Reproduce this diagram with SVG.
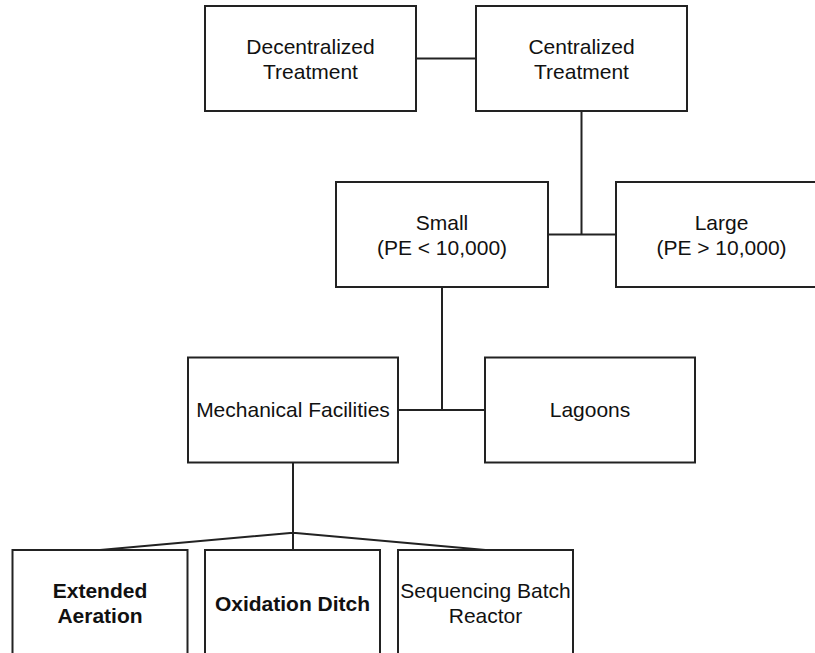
<svg xmlns="http://www.w3.org/2000/svg" width="815" height="653" viewBox="0 0 815 653">
<style>
.box{fill:#fff;stroke:#222;stroke-width:2}
.edge{fill:none;stroke:#222;stroke-width:2}
.t{font-family:"Liberation Sans",Arial,sans-serif;font-size:21px;fill:#111;text-anchor:middle}
.b{font-weight:bold}
</style>
<rect width="815" height="653" fill="#fff"/>
<g id="connectors">
<path class="edge" d="M416,58.5H476"/>
<path class="edge" d="M581.5,111V234.5M548,234.5H616"/>
<path class="edge" d="M442,287V410M398,410H485"/>
<path class="edge" d="M293,462.5V550M100,550L293,532.7L485.5,550"/>
</g>
<g id="decentralized">
<rect class="box" x="205" y="6" width="211" height="105"/>
<text class="t" x="310.5" y="54">Decentralized</text>
<text class="t" x="310.5" y="79">Treatment</text>
</g>
<g id="centralized">
<rect class="box" x="476" y="6" width="211" height="105"/>
<text class="t" x="581.5" y="54">Centralized</text>
<text class="t" x="581.5" y="79">Treatment</text>
</g>
<g id="small">
<rect class="box" x="336" y="182" width="212" height="105"/>
<text class="t" x="442" y="230">Small</text>
<text class="t" x="442" y="255">(PE &lt; 10,000)</text>
</g>
<g id="large">
<rect class="box" x="616" y="182" width="211" height="105"/>
<text class="t" x="721.5" y="230">Large</text>
<text class="t" x="721.5" y="255">(PE &gt; 10,000)</text>
</g>
<g id="mechanical">
<rect class="box" x="188" y="357.5" width="210" height="105"/>
<text class="t" x="293" y="417">Mechanical Facilities</text>
</g>
<g id="lagoons">
<rect class="box" x="485" y="357.5" width="210" height="105"/>
<text class="t" x="590" y="417">Lagoons</text>
</g>
<g id="extended">
<rect class="box" x="12.5" y="550" width="175" height="105"/>
<text class="t b" x="100" y="598">Extended</text>
<text class="t b" x="100" y="623">Aeration</text>
</g>
<g id="oxidation">
<rect class="box" x="205" y="550" width="175" height="105"/>
<text class="t b" x="292.5" y="611">Oxidation Ditch</text>
</g>
<g id="sbr">
<rect class="box" x="398" y="550" width="175" height="105"/>
<text class="t" x="485.5" y="598">Sequencing Batch</text>
<text class="t" x="485.5" y="623">Reactor</text>
</g>
</svg>
